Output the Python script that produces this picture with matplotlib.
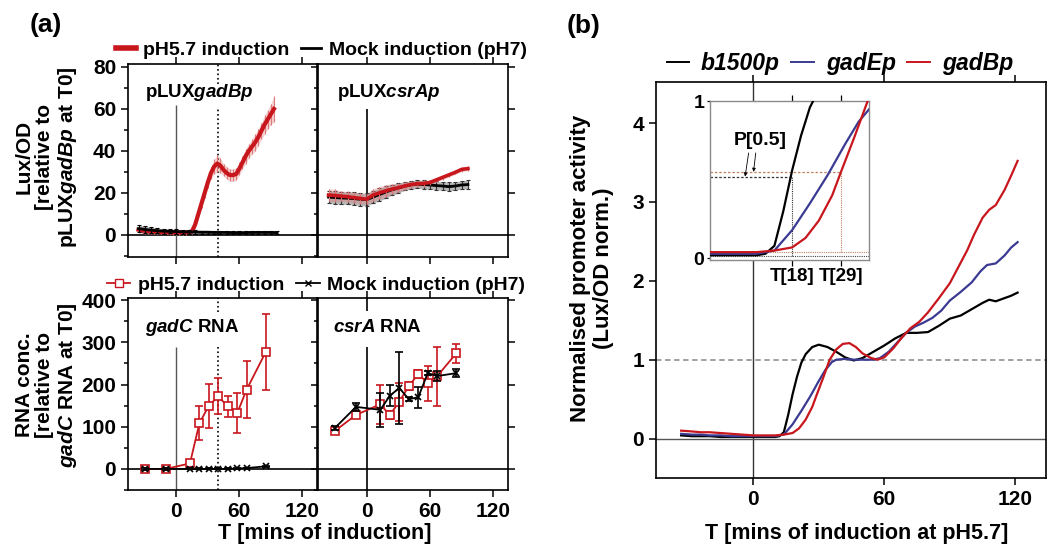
import matplotlib
matplotlib.use("Agg")
import matplotlib.pyplot as plt
from matplotlib.ticker import MultipleLocator
from matplotlib.lines import Line2D

plt.rcParams['font.family'] = ['Liberation Sans', 'DejaVu Sans']
plt.rcParams['font.weight'] = 'bold'
plt.rcParams['mathtext.fontset'] = 'custom'
plt.rcParams['mathtext.rm'] = 'Liberation Sans:bold'
plt.rcParams['mathtext.it'] = 'Liberation Sans:italic:bold'
plt.rcParams['mathtext.bf'] = 'Liberation Sans:bold'
plt.rcParams['axes.linewidth'] = 1.2

RED = '#c8161d'
RED_ERR = '#e07a7a'
BLUE = '#3a3a92'

# ---- panel (a) top: Lux/OD ----
t_lux_gadb = [-36, -33, -30, -27, -24, -21, -18, -15, -12, -9, -6, -3, 0, 3, 6, 9, 12, 15, 18, 21,
              24, 27, 30, 33, 36, 39, 42, 45, 48, 51, 54, 57, 60, 63, 66, 69, 72, 75, 78, 81,
              84, 87, 90, 93]
gadb_ph = [2.5, 2.2, 2.0, 1.8, 1.7, 1.6, 1.5, 1.4, 1.4, 1.3, 1.3, 1.2, 1.2, 1.2, 1.2, 1.2, 1.3, 1.8, 5.0, 10.0,
           15.0, 20.0, 25.0, 29.5, 32.5, 34.0, 33.0, 31.0, 29.5, 28.5, 28.5, 29.0, 31.5, 34.5, 37.5, 40.0, 42.0, 44.0, 46.5, 49.5,
           52.5, 55.0, 57.5, 60.0]
gadb_ph_err = [1.5, 1.5, 1.5, 1.2, 1.2, 1.2, 1.0, 1.0, 1.0, 1.0, 1.0, 1.0, 1.0, 1.0, 1.0, 1.0, 1.0, 1.2, 1.5, 2.0,
               2.0, 2.5, 2.5, 3.0, 3.5, 4.0, 3.5, 3.0, 3.0, 3.0, 3.0, 3.0, 3.0, 3.0, 3.5, 3.5, 3.5, 4.0, 4.0, 4.0,
               4.5, 4.5, 5.0, 6.0]

t_lux_mock = [-36, -30, -24, -18, -12, -6, 0, 6, 12, 18, 24, 30, 36, 42, 48, 54, 60, 66, 72, 78, 84, 90, 96]
gadb_mock = [3.0, 2.6, 2.3, 2.0, 1.8, 1.7, 1.6, 1.5, 1.4, 1.4, 1.3, 1.3, 1.2, 1.2, 1.2, 1.1, 1.1, 1.1, 1.2, 1.2, 1.2, 1.2, 1.1]
gadb_mock_err = [1.5, 1.5, 1.3, 1.2, 1.2, 1.0, 1.0, 1.0, 0.8, 0.8, 0.8, 0.8, 0.8, 0.8, 0.8, 0.8, 0.8, 0.8, 0.8, 0.8, 0.8, 0.8, 0.8]

t_lux_csra = [-36, -30, -24, -18, -12, -6, 0, 6, 12, 18, 24, 30, 36, 42, 48, 54, 60, 66, 72, 78, 84, 90, 96]
csra_lux_ph = [19.0, 18.8, 18.5, 18.2, 17.8, 17.4, 17.0, 19.0, 20.0, 21.0, 21.8, 22.5, 23.3, 24.0, 24.4, 24.5, 25.0, 26.2, 27.4, 28.6, 29.8, 31.2, 31.6]
csra_lux_ph_err = [3, 3, 2.5, 2.5, 2.5, 2.5, 2.5, 3, 3, 3, 2.5, 2, 2, 1.5, 1.5, 1.5, 1, 1, 1, 1, 1, 1, 1]
csra_lux_mock = [18.0, 17.8, 17.6, 17.5, 17.3, 17.0, 16.8, 18.0, 19.2, 20.4, 21.5, 22.3, 23.2, 23.8, 24.2, 24.0, 23.8, 23.5, 23.3, 23.0, 23.3, 23.8, 24.0]
csra_lux_mock_err = [3, 3, 3, 3, 3, 3, 3, 3, 3, 3, 2.5, 2.5, 2, 2, 2, 2, 2, 2, 2, 2, 2, 2, 2]

# ---- panel (a) bottom: RNA ----
t_rna = [-30, -10, 13, 22, 31, 40, 49, 58, 67, 85]
gadc_ph = [0, 0, 13, 108, 150, 172, 148, 132, 188, 276]
gadc_ph_err = [3, 3, 5, 40, 52, 43, 24, 47, 68, 90]
gadc_mock = [0, 0, 0, 0, 0, 0, 0, 1, 2, 6]
gadc_mock_err = [2, 2, 1, 1, 1, 1, 1, 1, 1, 2]
csra_ph = [90, 128, 153, 128, 159, 196, 225, 203, 220, 274]
csra_ph_err = [5, 5, 47, 10, 45, 10, 10, 41, 70, 23]
csra_mock = [97, 147, 140, 173, 192, 165, 170, 227, 220, 227]
csra_mock_err = [5, 10, 40, 25, 85, 5, 25, 5, 12, 10]
t_marker = 40

# ---- panel (b) ----
t_b1500 = [-33, -28, -24, -20, -15, -10, -5, 0, 5, 10, 12, 14, 16, 18, 20, 22, 24, 27, 30, 34,
           38, 42, 46, 50, 55, 60, 65, 70, 75, 80, 85, 90, 95, 100, 105, 108, 111, 115, 118, 121]
b1500 = [0.04, 0.03, 0.03, 0.03, 0.02, 0.02, 0.02, 0.02, 0.02, 0.02, 0.03, 0.08, 0.3, 0.56, 0.78, 0.96, 1.07, 1.16, 1.19, 1.16,
         1.1, 1.03, 0.99, 1.02, 1.1, 1.18, 1.27, 1.34, 1.34, 1.35, 1.43, 1.52, 1.56, 1.64, 1.72, 1.76, 1.74, 1.78, 1.81, 1.85]
t_gade = [-33, -28, -24, -20, -15, -10, -5, 0, 5, 10, 14, 18, 22, 26, 30, 33, 36, 38, 42, 46,
          50, 55, 58, 62, 66, 70, 74, 78, 82, 86, 90, 95, 100, 104, 107, 111, 115, 118, 121]
gade = [0.06, 0.05, 0.05, 0.04, 0.04, 0.03, 0.03, 0.03, 0.03, 0.03, 0.05, 0.18, 0.35, 0.53, 0.73, 0.87, 0.97, 1.0, 1.01, 1.0,
        1.0, 1.0, 1.02, 1.1, 1.22, 1.34, 1.42, 1.47, 1.53, 1.62, 1.75, 1.86, 1.98, 2.12, 2.2, 2.22, 2.32, 2.42, 2.49]
t_gadb = [-33, -28, -24, -20, -15, -10, -5, 0, 5, 10, 14, 18, 21, 24, 27, 29, 32, 35, 38, 41,
          44, 47, 50, 54, 57, 60, 64, 68, 72, 76, 80, 85, 90, 94, 98, 101, 105, 108, 111, 115, 118, 121]
gadb = [0.1, 0.09, 0.08, 0.08, 0.07, 0.06, 0.05, 0.04, 0.04, 0.04, 0.05, 0.07, 0.13, 0.24, 0.4, 0.55, 0.77, 1.0, 1.13, 1.2,
        1.21, 1.16, 1.08, 1.02, 1.0, 1.03, 1.14, 1.28, 1.4, 1.48, 1.6, 1.78, 1.97, 2.18, 2.39, 2.58, 2.8, 2.9, 2.96, 3.15, 3.33, 3.52]
t_half = [18, 29]
p_half = [0.52, 0.55]
base_level = [0.015, 0.04]

W, H = 1047, 550
fig = plt.figure(figsize=(W / 100, H / 100), dpi=100)


def px_axes(l, t, r, b):
    return fig.add_axes([l / W, 1 - b / H, (r - l) / W, (b - t) / H])


def style_a(ax, ylim, major, minor, left_labels, bottom_labels):
    ax.set_xlim(-46, 134)
    ax.set_ylim(*ylim)
    ax.set_xticks([0, 60, 120])
    ax.yaxis.set_major_locator(MultipleLocator(major))
    ax.yaxis.set_minor_locator(MultipleLocator(minor))
    ax.tick_params(which='both', direction='out', top=True, labelsize=15, width=1.1)
    ax.tick_params(which='major', length=5)
    ax.tick_params(which='minor', length=3)
    ax.tick_params(labelleft=left_labels, labelbottom=bottom_labels)
    if left_labels:
        ax.tick_params(right=False)
    else:
        ax.tick_params(right=True)
    ax.axhline(0, color='black', lw=1.2, zorder=1)


ax_tl = px_axes(128, 64, 317, 257)
ax_tr = px_axes(318, 64, 508, 257)
ax_bl = px_axes(128, 298, 317, 490)
ax_br = px_axes(318, 298, 508, 490)

for ax in (ax_tl, ax_tr):
    style_a(ax, (-10.5, 81.4), 20, 10, ax is ax_tl, False)
for ax in (ax_bl, ax_br):
    style_a(ax, (-50, 405), 100, 50, ax is ax_bl, True)


def lux(ax, t, y, e, color, ecolor, lw, cap, z):
    lo = [a - b for a, b in zip(y, e)]
    hi = [a + b for a, b in zip(y, e)]
    ax.fill_between(t, lo, hi, color=ecolor, alpha=0.35, lw=0, zorder=z - 1)
    ax.errorbar(t, y, yerr=e, color=color, lw=lw, ecolor=ecolor, elinewidth=0.8,
                capsize=cap, capthick=0.8, zorder=z)


lux(ax_tl, t_lux_gadb, gadb_ph, gadb_ph_err, RED, RED_ERR, 3, 0, 3)
lux(ax_tl, t_lux_mock, gadb_mock, gadb_mock_err, 'black', 'black', 2, 1.5, 4)
lux(ax_tr, t_lux_csra, csra_lux_mock, csra_lux_mock_err, 'black', '#333333', 2, 1.5, 3)
lux(ax_tr, t_lux_csra, csra_lux_ph, csra_lux_ph_err, RED, RED_ERR, 2.6, 0, 4)

ax_tl.vlines(0, -10.5, 62, color='#555555', lw=1, zorder=1)
ax_tl.vlines(t_marker, -10.5, 61, color='black', lw=1.2, ls=':', zorder=1)
ax_tl.vlines(t_marker, 72, 81.4, color='black', lw=1.2, ls=':', zorder=1)
ax_tr.vlines(0, -10.5, 60, color='black', lw=1.2, zorder=1)
ax_tl.text(22, 68, 'pLUX$\\mathit{gadBp}$', fontsize=13.5, ha='center', va='center')
ax_tr.text(21, 68, 'pLUX$\\mathit{csrAp}$', fontsize=13.5, ha='center', va='center')

for ax, ph, phe, mk, mke in ((ax_bl, gadc_ph, gadc_ph_err, gadc_mock, gadc_mock_err),
                             (ax_br, csra_ph, csra_ph_err, csra_mock, csra_mock_err)):
    ax.errorbar(t_rna, ph, yerr=phe, color=RED, marker='s', mfc='white', mec=RED, ms=6, mew=1.2,
                lw=1.3, capsize=3, capthick=1.2, elinewidth=1.2, zorder=3)
    ax.errorbar(t_rna, mk, yerr=mke, color='black', marker='x', ms=5, mew=1.2,
                lw=1.3, capsize=3, capthick=1.2, elinewidth=1.2, zorder=4)

ax_bl.vlines(0, -50, 290, color='#555555', lw=1, zorder=1)
ax_bl.vlines(t_marker, -50, 290, color='black', lw=1.2, ls=':', zorder=1)
ax_bl.vlines(t_marker, 372, 405, color='black', lw=1.2, ls=':', zorder=1)
ax_br.vlines(0, -50, 290, color='black', lw=1.2, zorder=1)
ax_br.vlines(0, 375, 405, color='black', lw=1.2, zorder=1)
ax_bl.text(15, 336, '$\\mathit{gadC}$ RNA', fontsize=13.5, ha='center', va='center')
ax_br.text(10, 336, '$\\mathit{csrA}$ RNA', fontsize=13.5, ha='center', va='center')

h_top = [Line2D([], [], color=RED, lw=4), Line2D([], [], color='black', lw=2)]
fig.legend(h_top, ['pH5.7 induction', 'Mock induction (pH7)'], loc='center',
           bbox_to_anchor=(0.307, 0.909), ncol=2, frameon=False, fontsize=14,
           handlelength=1.0, handletextpad=0.4, columnspacing=0.6)
h_bot = [Line2D([], [], color=RED, lw=1.3, marker='s', mfc='white', ms=6),
         Line2D([], [], color='black', lw=1.3, marker='x', ms=5)]
fig.legend(h_bot, ['pH5.7 induction', 'Mock induction (pH7)'], loc='center',
           bbox_to_anchor=(0.302, 0.482), ncol=2, frameon=False, fontsize=14,
           handlelength=1.2, handletextpad=0.4, columnspacing=0.6)

fig.text(47 / W, 1 - 157 / H, 'Lux/OD\n[relative to\npLUX$\\mathit{gadBp}$ at T0]', rotation=90,
         ha='center', va='center', fontsize=15, linespacing=1.1, multialignment='center')
fig.text(47 / W, 1 - 385 / H, 'RNA conc.\n[relative to\n$\\mathit{gadC}$ RNA at T0]', rotation=90,
         ha='center', va='center', fontsize=15, linespacing=1.1, multialignment='center')
fig.text(325 / W, 1 - 533 / H, 'T [mins of induction]', ha='center', va='center', fontsize=15.5)
fig.text(46 / W, 1 - 25 / H, '(a)', ha='center', va='center', fontsize=19)
fig.text(584 / W, 1 - 26 / H, '(b)', ha='center', va='center', fontsize=19)

# ---- panel (b) ----
ax_b = px_axes(656, 82, 1046, 478)
ax_b.set_xlim(-44.5, 134)
ax_b.set_ylim(-0.5, 4.52)
ax_b.set_xticks([0, 60, 120])
ax_b.set_yticks([0, 1, 2, 3, 4])
ax_b.tick_params(direction='out', top=True, length=5, width=1.1, labelsize=15)
ax_b.axvline(0, color='#333333', lw=1, zorder=1)
ax_b.axhline(0, color='#555555', lw=1, zorder=1)
ax_b.axhline(1, color='#999999', lw=1.3, ls=(0, (3, 2)), zorder=1)
ax_b.plot(t_b1500, b1500, color='black', lw=1.6, zorder=3)
ax_b.plot(t_gade, gade, color=BLUE, lw=1.6, zorder=3)
ax_b.plot(t_gadb, gadb, color=RED, lw=1.6, zorder=3)

h_b = [Line2D([], [], color=c, lw=1.4) for c in ('black', BLUE, RED)]
fig.legend(h_b, ['b1500p', 'gadEp', 'gadBp'], loc='center', bbox_to_anchor=(0.802, 0.885),
           ncol=3, frameon=False, prop={'style': 'italic', 'weight': 'bold', 'size': 16.5},
           handlelength=1.0, handletextpad=0.5, columnspacing=0.5)
fig.text(592 / W, 1 - 268 / H, 'Normalised promoter activity\n(Lux/OD norm.)', rotation=90,
         ha='center', va='center', fontsize=16, linespacing=1.1, multialignment='center')
fig.text(857 / W, 1 - 533 / H, 'T [mins of induction at pH5.7]', ha='center', va='center', fontsize=15.5)

# inset
ax_in = px_axes(710, 101, 869, 260)
ax_in.set_facecolor('white')
ax_in.set_xlim(-0.5, 35.3)
ax_in.set_ylim(-0.01, 1.0)
for s in ax_in.spines.values():
    s.set_color('#8a8a8a')
    s.set_linewidth(1)
ax_in.set_xticks(t_half)
ax_in.set_xticklabels(['T[%d]' % v for v in t_half])
ax_in.set_yticks([0, 1])
ax_in.tick_params(direction='out', top=True, length=4, width=0.9, labelsize=13.5, pad=2)
ax_in.tick_params(axis='y', length=2, labelsize=14)
ax_in.plot(t_b1500, b1500, color='black', lw=1.6, zorder=3)
ax_in.plot(t_gade, gade, color=BLUE, lw=1.6, zorder=3)
ax_in.plot(t_gadb, gadb, color=RED, lw=1.6, zorder=3)
ax_in.axhline(base_level[0], color='#444444', lw=0.8, ls=(0, (1, 1)), zorder=2)
ax_in.axhline(base_level[1], color='#c08060', lw=0.8, ls=(0, (1, 1)), zorder=2)
ax_in.hlines(p_half[0], -0.5, t_half[0], color='#333333', lw=0.9, ls=(0, (2, 1.5)), zorder=2)
ax_in.hlines(p_half[1], -0.5, t_half[1], color='#c08060', lw=0.9, ls=(0, (2, 1.5)), zorder=2)
ax_in.vlines(t_half[0], base_level[0], p_half[0], color='#333333', lw=0.8, ls=(0, (1, 1)), zorder=2)
ax_in.vlines(t_half[1], base_level[1], p_half[1], color='#c08060', lw=0.8, ls=(0, (1, 1)), zorder=2)
ax_in.text(10.8, 0.75, 'P[0.5]', ha='center', va='center', fontsize=14)
arrow = dict(arrowstyle='-|>', lw=0.6, color='black', mutation_scale=5, shrinkA=0, shrinkB=0)
ax_in.annotate('', xy=(7.4, p_half[0]), xytext=(8.2, 0.67), arrowprops=arrow)
ax_in.annotate('', xy=(9.3, p_half[1]), xytext=(9.8, 0.67), arrowprops=arrow)

fig.savefig('out.png', dpi=100)
